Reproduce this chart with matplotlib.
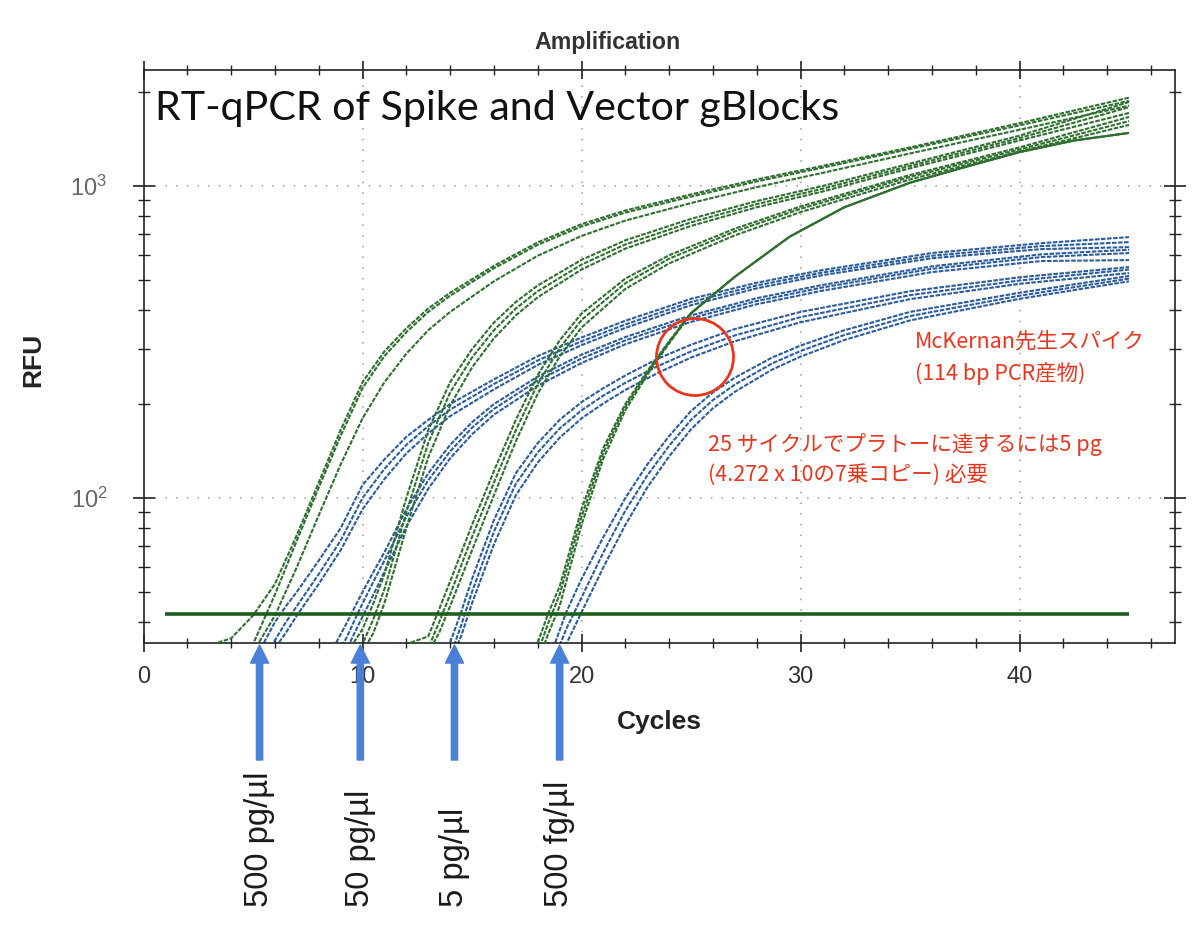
import matplotlib
matplotlib.use('Agg')
import matplotlib.pyplot as plt
from matplotlib.ticker import MultipleLocator, LogLocator, NullFormatter, FixedLocator
from matplotlib.patches import Ellipse

# ---------------- data ----------------
# Green curves (Spike gBlocks), 4 dilutions x 3 replicates
GA_cyc = [3.4, 4, 5, 6, 7, 8, 9, 10, 11, 12, 13, 14, 16, 18, 20, 22, 25, 28, 31, 35, 40, 45]
GA1 = [34.4, 35.5, 42, 53, 76, 112, 165, 235, 295, 350, 405, 455, 555, 660, 755, 835, 940, 1050, 1160, 1330, 1590, 1920]
GA2 = [30, 31, 34, 49, 73, 108, 158, 225, 285, 340, 395, 445, 545, 648, 742, 822, 925, 1035, 1145, 1315, 1565, 1875]
GA3 = [30, 31, 32, 42, 60, 88, 128, 180, 235, 290, 345, 395, 495, 598, 692, 775, 882, 992, 1102, 1272, 1515, 1810]

GB_cyc = [9.6, 10, 10.5, 11, 12, 13, 14, 15, 16, 17, 18, 20, 22, 25, 28, 31, 35, 40, 45]
GB1 = [34.4, 38, 46, 57, 100, 165, 235, 300, 365, 425, 480, 580, 670, 785, 895, 1000, 1180, 1450, 1860]
GB2 = [31, 34, 41, 51, 90, 150, 218, 282, 345, 405, 460, 560, 650, 765, 875, 980, 1160, 1425, 1790]
GB3 = [30, 32, 37, 46, 80, 135, 198, 262, 325, 385, 440, 540, 630, 745, 855, 960, 1140, 1400, 1715]

GC_cyc = [12.2, 13, 13.5, 14, 15, 16, 17, 18, 19, 20, 22, 24, 27, 30, 35, 40, 45]
GC1 = [34.4, 36, 44, 54, 82, 122, 178, 248, 320, 390, 505, 600, 730, 860, 1085, 1330, 1665]
GC2 = [30, 33, 40, 49, 75, 112, 165, 232, 302, 372, 488, 585, 715, 845, 1070, 1310, 1615]
GC3 = [30, 32, 37, 45, 68, 102, 152, 216, 284, 352, 468, 565, 695, 825, 1050, 1290, 1570]

GD_cyc = [18, 18.5, 19, 20, 21, 22, 23, 24, 25, 27, 29.5, 32, 35, 37.5, 40, 42.5, 45]
GD1 = [34.4, 43, 52, 92, 145, 200, 255, 318, 392, 512, 688, 855, 1025, 1150, 1285, 1400, 1480]
GD2 = [32, 40, 49, 87, 140, 196, 252, 316, 391, 512, 688, 855, 1025, 1150, 1285, 1400, 1480]
GD3 = [30, 37, 45, 82, 134, 191, 248, 313, 390, 512, 688, 855, 1025, 1150, 1285, 1400, 1480]

# Blue curves (Vector gBlocks), 4 dilutions x 3 replicates
BA_cyc = [5.5, 6, 6.5, 7, 8, 9, 10, 11, 12, 13, 14, 16, 18, 20, 22, 25, 28, 31, 36, 41, 45]
BA1 = [34.4, 40, 45, 50, 63, 80, 110, 133, 157, 178, 200, 240, 285, 327, 370, 435, 490, 538, 610, 656, 686]
BA2 = [31, 35, 40, 45, 57, 73, 100, 124, 148, 170, 192, 232, 276, 318, 360, 425, 480, 528, 598, 642, 661]
BA3 = [30, 33, 37, 42, 53, 68, 92, 115, 139, 161, 183, 223, 267, 309, 351, 415, 470, 518, 587, 628, 637]

BB_cyc = [8.8, 9.3, 9.8, 10.5, 11, 12, 13, 14, 15, 16, 18, 20, 22, 25, 28, 31, 36, 41, 45]
BB1 = [34.4, 40, 47, 58, 67, 92, 120, 148, 175, 200, 245, 288, 328, 385, 437, 482, 553, 604, 625]
BB2 = [31, 36, 43, 54, 63, 87, 114, 141, 168, 193, 238, 280, 320, 377, 428, 473, 543, 592, 610]
BB3 = [30, 33, 39, 49, 58, 81, 107, 134, 160, 185, 229, 271, 311, 367, 418, 462, 530, 575, 579]

BC_cyc = [14, 14.5, 15, 16, 17, 18, 19, 20, 21, 22, 23.5, 25, 27, 30, 35, 40, 45]
BC1 = [34.4, 43, 55, 85, 120, 150, 178, 203, 225, 247, 280, 310, 348, 395, 460, 510, 550]
BC2 = [31, 39, 50, 78, 111, 140, 167, 191, 213, 234, 265, 295, 332, 380, 447, 498, 540]
BC3 = [30, 36, 46, 71, 102, 130, 156, 180, 201, 222, 252, 282, 318, 366, 434, 486, 526]

BD_cyc = [18.8, 19.3, 20, 21, 22, 23, 24, 25, 26, 27, 28.7, 30, 32, 35, 40, 45]
BD1 = [34.4, 43, 55, 75, 100, 128, 158, 190, 218, 243, 282, 308, 345, 395, 455, 515]
BD2 = [31, 38, 48, 67, 91, 118, 147, 178, 206, 231, 270, 296, 333, 383, 445, 505]
BD3 = [30, 34, 43, 60, 82, 108, 136, 166, 194, 219, 258, 284, 321, 371, 435, 495]

threshold_rfu = 42.5
threshold_cycles = [1, 45]

arrow_cycles = [5.3, 9.9, 14.2, 19.0]
arrow_labels = ['500 pg/\u00b5l', '50 pg/\u00b5l', '5 pg/\u00b5l', '500 fg/\u00b5l']

x_ticks = [0, 10, 20, 30, 40]
title_text = 'Amplification'
inner_title = 'RT-qPCR of Spike and Vector gBlocks'
note_lines_1 = ['McKernan先生スパイク', '(114 bp PCR産物)']
note_lines_2 = ['25 サイクルでプラトーに達するには5 pg', '(4.272 x 10の7乗コピー) 必要']

# ---------------- styling ----------------
W, H = 1200, 935
GREEN = '#2f6f2f'
BLUE = '#2b5c9e'
THR = '#1f5e1f'
ARROW = '#4a80d8'
RED = '#e8361e'
SANS = ['Liberation Sans', 'DejaVu Sans']
JP = ['Noto Sans CJK JP', 'DejaVu Sans']

plt.rcParams['font.family'] = SANS
plt.rcParams['mathtext.fontset'] = 'custom'
plt.rcParams['mathtext.rm'] = 'Liberation Sans'

fig = plt.figure(figsize=(W / 100, H / 100), dpi=100)
fig.patch.set_facecolor('white')

def fx(x):
    return x / W

def fy(y):
    return 1 - y / H

ax_l, ax_r, ax_t, ax_b = 143.5, 1175, 70, 643
ax = fig.add_axes([fx(ax_l), fy(ax_b), (ax_r - ax_l) / W, (ax_b - ax_t) / H])
ax.set_yscale('log')
ax.set_xlim(0, 47.1)
ax.set_ylim(34.3, 2355)

# grid
for xv in x_ticks[1:]:
    ax.axvline(xv, color='#9a9a9a', lw=1.1, ls=(0, (1, 6)), zorder=0.5)
for yv in [100, 1000]:
    ax.axhline(yv, color='#9a9a9a', lw=1.1, ls=(0, (1, 6)), zorder=0.5)

blue_groups = [(BA_cyc, [BA1, BA2, BA3]), (BB_cyc, [BB1, BB2, BB3]),
               (BC_cyc, [BC1, BC2, BC3]), (BD_cyc, [BD1, BD2, BD3])]
green_groups = [(GA_cyc, [GA1, GA2, GA3]), (GB_cyc, [GB1, GB2, GB3]),
                (GC_cyc, [GC1, GC2, GC3]), (GD_cyc, [GD1, GD2, GD3])]

for cyc, reps in blue_groups:
    for vals in reps:
        ax.plot(cyc, vals, color=BLUE, lw=1.5, ls=(0, (2.2, 0.7)), zorder=2)
for cyc, reps in green_groups:
    for vals in reps:
        ax.plot(cyc, vals, color=GREEN, lw=1.5, ls=(0, (2.2, 0.7)), zorder=3)

ax.plot(threshold_cycles, [threshold_rfu, threshold_rfu], color=THR, lw=2.6, zorder=4,
        solid_capstyle='butt')

# spines & ticks
for s in ax.spines.values():
    s.set_linewidth(1.2)
    s.set_color('#222222')
ax.xaxis.set_major_locator(FixedLocator(x_ticks))
ax.xaxis.set_minor_locator(MultipleLocator(2))
ax.yaxis.set_major_locator(LogLocator(base=10, numticks=10))
ax.yaxis.set_minor_locator(LogLocator(base=10, subs=[2, 3, 4, 5, 6, 7, 8, 9], numticks=20))
ax.yaxis.set_minor_formatter(NullFormatter())
ax.tick_params(axis='both', which='major', direction='inout', top=True, right=True,
               width=1.2, color='#222222')
ax.tick_params(axis='both', which='minor', direction='inout', top=True, right=True,
               width=1.0, color='#222222')
ax.tick_params(axis='x', which='major', length=13, pad=10, labelsize=17, labelcolor='#333333')
ax.tick_params(axis='x', which='minor', length=6.5)
ax.tick_params(axis='y', which='major', length=16, pad=18, labelsize=17, labelcolor='#666666')
ax.tick_params(axis='y', which='minor', length=8.5)

ax.set_xlabel('Cycles', fontsize=19, fontweight='bold', color='#222222')
ax.xaxis.set_label_coords(0.5, (ax_b - 722) / (ax_b - ax_t))
ax.xaxis.label.set_va('center')
ax.set_ylabel('RFU', fontsize=19, fontweight='bold', color='#222222')
ax.yaxis.set_label_coords((33 - ax_l) / (ax_r - ax_l), (ax_b - 360) / (ax_b - ax_t))
ax.yaxis.label.set_va('center')

# texts
t_title = fig.text(fx(607), fy(42), title_text, ha='center', va='center',
                   fontsize=15, fontweight='bold', color='#333333')
t_inner = fig.text(fx(155), fy(120), inner_title, ha='left', va='baseline',
                   fontsize=30, family=['Lato', 'DejaVu Sans'], color='#111111')

red_texts = []
red_texts.append(fig.text(fx(915), fy(342), note_lines_1[0], ha='left', va='center',
                          fontsize=16, family=JP, color=RED))
red_texts.append(fig.text(fx(915), fy(373), note_lines_1[1], ha='left', va='center',
                          fontsize=16, family=JP, color=RED))
red_texts.append(fig.text(fx(708), fy(445), note_lines_2[0], ha='left', va='center',
                          fontsize=16, family=JP, color=RED))
red_texts.append(fig.text(fx(708), fy(475), note_lines_2[1], ha='left', va='center',
                          fontsize=16, family=JP, color=RED))

circle = Ellipse((fx(695), fy(357)), 77 / W, 77 / H, transform=fig.transFigure,
                 fill=False, edgecolor=RED, lw=2.0, zorder=10)
fig.add_artist(circle)

# arrows and dilution labels
xtr = ax.get_xaxis_transform()
tip_y = (ax_b - 645) / (ax_b - ax_t)
tail_y = (ax_b - 760) / (ax_b - ax_t)
lab_y = (ax_b - 907) / (ax_b - ax_t)
lab_texts = []
for xc, lab in zip(arrow_cycles, arrow_labels):
    ax.annotate('', xy=(xc, tip_y), xytext=(xc, tail_y), xycoords=xtr, textcoords=xtr,
                arrowprops=dict(facecolor=ARROW, edgecolor=ARROW, width=4.5,
                                headwidth=13, headlength=13, shrink=0),
                annotation_clip=False)
    lab_texts.append(ax.text(xc, lab_y, lab, transform=xtr, rotation=90, ha='center',
                             va='bottom', fontsize=22, color='#1a1a1a', clip_on=False))

# fit text sizes to measured extents
fig.canvas.draw()
r = fig.canvas.get_renderer()

def fit(t, target, use_height=False):
    bb = t.get_window_extent(r)
    cur = bb.height if use_height else bb.width
    if cur > 0:
        t.set_fontsize(t.get_fontsize() * target / cur)

fit(t_inner, 683)
fit(t_title, 147)
fit(red_texts[2], 394)
for t in red_texts:
    t.set_fontsize(red_texts[2].get_fontsize())
fit(lab_texts[0], 135, use_height=True)
for t in lab_texts:
    t.set_fontsize(lab_texts[0].get_fontsize())

fig.savefig('out.png', dpi=100, facecolor='white')
